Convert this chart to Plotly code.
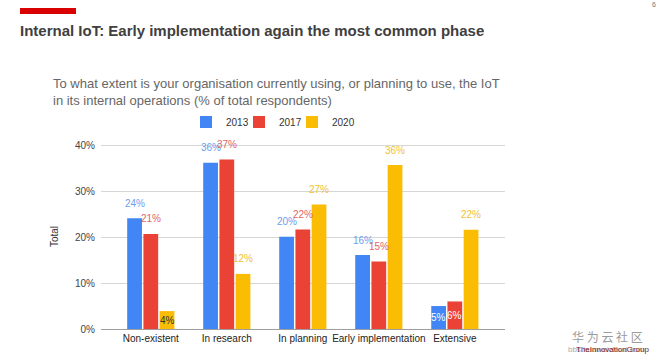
import plotly.graph_objects as go

categories = ["Non-existent", "In research", "In planning", "Early implementation", "Extensive"]
series_names = ["2013", "2017", "2020"]
values_2013 = [24.1, 36.2, 20.1, 16.1, 5.0]
values_2017 = [20.7, 36.9, 21.7, 14.7, 6.0]
values_2020 = [3.9, 12.0, 27.1, 35.7, 21.6]
labels_2013 = ["24%", "36%", "20%", "16%", "5%"]
labels_2017 = ["21%", "37%", "22%", "15%", "6%"]
labels_2020 = ["4%", "12%", "27%", "36%", "22%"]
y_ticks = [0, 10, 20, 30, 40]

W, H = 660, 362
L, R, T, B = 101, 155, 144, 33
PW, PH = W - L - R, H - T - B

def px(x):
    return (x - L) / PW

def py(y):
    return 1 - (y - T) / PH

bar_colors = ["#4285F4", "#EA4335", "#FBBC04"]
label_colors = ["#6d9eeb", "#e06666", "#f1c232"]
font = "Liberation Sans, Arial, sans-serif"

bargap = 0.36
bargroupgap = 0.09

fig = go.Figure()
all_vals = [values_2013, values_2017, values_2020]
all_labels = [labels_2013, labels_2017, labels_2020]
for idx, (name, vals, col) in enumerate(zip(series_names, all_vals, bar_colors)):
    extra = {"legendwidth": 8} if idx < 2 else {}
    fig.add_trace(go.Bar(name=name, x=categories, y=vals, marker=dict(color=col, line=dict(width=0)),
                         hoverinfo="skip", **extra))

slot = (1 - bargap) / 3
annotations = []
for k, (vals, labs) in enumerate(zip(all_vals, all_labels)):
    for i, (v, lab) in enumerate(zip(vals, labs)):
        xpos = i + (k - 1) * slot
        if v < 7:
            color = "#333333" if k == 2 else "#ffffff"
            annotations.append(dict(x=xpos, y=v / 2, xref="x", yref="y", text=lab, showarrow=False,
                                    font=dict(family=font, size=10, color=color), yanchor="middle"))
        else:
            annotations.append(dict(x=xpos, y=v, xref="x", yref="y", text=lab, showarrow=False,
                                    font=dict(family=font, size=10, color=label_colors[k]),
                                    yanchor="middle", yshift=15))

# subtitle
annotations.append(dict(xref="paper", yref="paper", x=px(51), y=py(92), xanchor="left", yanchor="middle",
                        align="left", showarrow=False,
                        text="To what extent is your organisation currently using, or planning to use, the IoT<br>in its internal operations (% of total respondents)",
                        font=dict(family=font, size=13, color="#666666")))
# page number
annotations.append(dict(xref="paper", yref="paper", x=px(654), y=py(4), xanchor="center", yanchor="middle",
                        showarrow=False, text="6", font=dict(family=font, size=7, color="#777777")))
# watermark
annotations.append(dict(xref="paper", yref="paper", x=px(607), y=py(336), xanchor="center", yanchor="middle",
                        showarrow=False, text="华 为 云 社 区",
                        font=dict(family="Noto Sans CJK SC", size=12, color="#9a9a9a")))
annotations.append(dict(xref="paper", yref="paper", x=px(566), y=py(349), xanchor="left", yanchor="middle",
                        showarrow=False, text="bbs.huaweicloud.com",
                        font=dict(family=font, size=8, color="#aaaaaa")))
annotations.append(dict(xref="paper", yref="paper", x=px(574), y=py(349), xanchor="left", yanchor="middle",
                        showarrow=False, text="TheInnovationGroup",
                        font=dict(family=font, size=8, color="#7a2020")))

fig.update_layout(
    width=W, height=H,
    margin=dict(l=L, r=R, t=T, b=B, pad=0, autoexpand=False),
    paper_bgcolor="white", plot_bgcolor="white",
    barmode="group", bargap=bargap, bargroupgap=bargroupgap,
    title=dict(text="<b>Internal IoT: Early implementation again the most common phase</b>",
               x=20 / W, xanchor="left", xref="container", y=1 - 31 / H, yref="container", yanchor="middle",
               font=dict(family=font, size=15, color="#404040")),
    legend=dict(orientation="h", x=px(186), xanchor="left", y=py(122), yanchor="middle",
                font=dict(family=font, size=10, color="#333333"), itemwidth=30,
                bgcolor="rgba(0,0,0,0)"),
    xaxis=dict(range=[-0.655, 4.66], showgrid=False, showline=False, ticks="", tickangle=0,
               automargin=False, ticklabelstandoff=2,
               tickfont=dict(family=font, size=10, color="#222222")),
    yaxis=dict(range=[0, 40.3], tickvals=y_ticks, ticktext=[f"{t}%" for t in y_ticks],
               showgrid=True, gridcolor="#d6d6d6", gridwidth=1, zeroline=True, zerolinecolor="#9e9e9e",
               zerolinewidth=1, ticks="", ticklabelstandoff=5, automargin=False,
               tickfont=dict(family=font, size=10, color="#444444"),
               title=dict(text="Total", standoff=14, font=dict(family=font, size=10, color="#333333"))),
    annotations=annotations,
    shapes=[dict(type="rect", xref="paper", yref="paper", x0=px(20), x1=px(76), y0=py(8), y1=py(14),
                 fillcolor="#d90000", line=dict(width=0))],
)

fig.write_html("out.html", config={"displayModeBar": False},
               post_script="document.body.style.margin='0';")
